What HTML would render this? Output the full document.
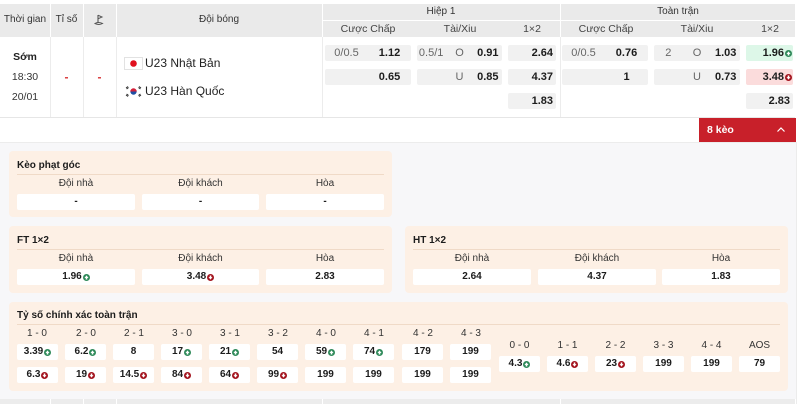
<!DOCTYPE html>
<html><head><meta charset="utf-8">
<style>
*{box-sizing:border-box}
body{margin:0;width:800px;height:404px;position:relative;overflow:hidden;background:#fff;font-family:"Liberation Sans",sans-serif;color:#222}
.a{position:absolute}
.t{position:absolute;text-align:center;white-space:nowrap}
.cell{position:absolute;height:16px;background:#f1f1f1;border-radius:2px;font-size:11px;line-height:16px;display:flex;color:#666}
.cell span{flex:1;text-align:center}
.b{font-weight:bold;color:#1c1c1c}
.r{justify-content:flex-end;align-items:center;padding-right:3px}
.g{background:#ddf7e8}
.rd{background:#fbdcdc}
.box{position:absolute;height:16px;background:#fff;border-radius:2px;font-size:10px;font-weight:bold;line-height:16px;display:flex;justify-content:center;align-items:center;color:#1c1c1c}
.box svg,.cell svg{margin-left:1px}
.lbl{position:absolute;font-size:10px;text-align:center;color:#333;line-height:12px}
.card{position:absolute;background:#fdf0e5;border-radius:4px}
.ttl{position:absolute;font-size:10px;font-weight:bold;color:#1c1c1c;line-height:12px}
.ln{position:absolute;height:1px;background:#f0dac7}
.vs{position:absolute;width:1px;background:#ececec}
.ws{position:absolute;background:#fff}
</style></head><body>

<!-- header -->
<div class="a" style="left:0;top:4px;width:795px;height:33px;background:#eaeaea"></div>
<div class="ws" style="left:50px;top:4px;width:1px;height:33px"></div>
<div class="ws" style="left:83px;top:4px;width:1px;height:33px"></div>
<div class="ws" style="left:116px;top:4px;width:1px;height:33px"></div>
<div class="ws" style="left:322px;top:4px;width:1px;height:33px"></div>
<div class="ws" style="left:560px;top:4px;width:1px;height:33px"></div>
<div class="ws" style="left:322px;top:20px;width:473px;height:1px"></div>

<div class="t" style="left:0;top:14px;width:50px;font-size:10px;line-height:12px;color:#333">Thời gian</div>
<div class="t" style="left:50px;top:14px;width:33px;font-size:10px;line-height:12px;color:#333">Tỉ số</div>
<svg class="a" style="left:94px;top:14px" width="10" height="12" viewBox="0 0 10 12"><path d="M4 1V9" stroke="#555" stroke-width="1.1" fill="none"/><path d="M4 1.2L8 3L4 4.8" stroke="#555" stroke-width="1" fill="none"/><path d="M1 9.5Q4 7.5 8.5 9.5Q5 11.5 1 9.5Z" stroke="#555" stroke-width="1" fill="none"/></svg>
<div class="t" style="left:116px;top:14px;width:206px;font-size:10px;line-height:12px;color:#333">Đội bóng</div>
<div class="t" style="left:322px;top:6px;width:238px;font-size:10px;line-height:12px;color:#333">Hiệp 1</div>
<div class="t" style="left:561px;top:6px;width:234px;font-size:10px;line-height:12px;color:#333">Toàn trận</div>
<div class="t" style="left:328px;top:23px;width:80px;font-size:10.5px;line-height:12px;color:#444">Cược Chấp</div>
<div class="t" style="left:420px;top:23px;width:80px;font-size:10.5px;line-height:12px;color:#444">Tài/Xiu</div>
<div class="t" style="left:512px;top:23px;width:40px;font-size:10.5px;line-height:12px;color:#444">1×2</div>
<div class="t" style="left:566px;top:23px;width:80px;font-size:10.5px;line-height:12px;color:#444">Cược Chấp</div>
<div class="t" style="left:657px;top:23px;width:80px;font-size:10.5px;line-height:12px;color:#444">Tài/Xiu</div>
<div class="t" style="left:750px;top:23px;width:40px;font-size:10.5px;line-height:12px;color:#444">1×2</div>

<!-- body row -->
<div class="vs" style="left:50px;top:37px;height:80px"></div>
<div class="vs" style="left:83px;top:37px;height:80px"></div>
<div class="vs" style="left:116px;top:37px;height:80px"></div>
<div class="vs" style="left:322px;top:37px;height:80px"></div>
<div class="vs" style="left:560px;top:37px;height:80px"></div>
<div class="a" style="left:0;top:117px;width:795px;height:1px;background:#e6e6e6"></div>

<div class="t" style="left:0;top:51px;width:50px;font-size:10.5px;font-weight:bold;line-height:12px">Sớm</div>
<div class="t" style="left:0;top:71px;width:50px;font-size:10.5px;line-height:12px;color:#333">18:30</div>
<div class="t" style="left:0;top:91px;width:50px;font-size:10.5px;line-height:12px;color:#333">20/01</div>
<div class="t" style="left:50px;top:70px;width:33px;font-size:12px;font-weight:bold;line-height:14px;color:#d9383a">-</div>
<div class="t" style="left:83px;top:70px;width:33px;font-size:12px;font-weight:bold;line-height:14px;color:#d9383a">-</div>

<svg class="a" style="left:124px;top:57px" width="19" height="13" viewBox="0 0 19 13"><rect x="0.5" y="0.5" width="18" height="12" fill="#fff" stroke="#e2e2e2"/><circle cx="9.5" cy="6.5" r="3.3" fill="#e0101e"/></svg>
<div class="a" style="left:145px;top:55px;font-size:12px;line-height:16px;color:#222">U23 Nhật Bản</div>
<svg class="a" style="left:124px;top:85px" width="19" height="13" viewBox="0 0 19 13"><rect x="0" y="0" width="19" height="13" fill="#fff"/><path d="M6.3 6.5A3.2 3.2 0 0 1 12.7 6.5Z" fill="#d3213a"/><path d="M6.3 6.5A3.2 3.2 0 0 0 12.7 6.5Z" fill="#1f4fa3"/><g stroke="#333" stroke-width="1"><path d="M2 3L4 1.5M2.6 4L4.6 2.5"/><path d="M15 1.5L17 3M14.4 2.5L16.4 4"/><path d="M2 10L4 11.5M2.6 9L4.6 10.5"/><path d="M15 11.5L17 10M14.4 10.5L16.4 9"/></g></svg>
<div class="a" style="left:145px;top:83px;font-size:12px;line-height:16px;color:#222">U23 Hàn Quốc</div>

<!-- odds H1 -->
<div class="cell" style="left:325px;top:45px;width:86px"><span>0/0.5</span><span class="b">1.12</span></div>
<div class="cell" style="left:417px;top:45px;width:85px"><span>0.5/1</span><span>O</span><span class="b">0.91</span></div>
<div class="cell r b" style="left:508px;top:45px;width:48px">2.64</div>
<div class="cell" style="left:325px;top:69px;width:86px"><span></span><span class="b">0.65</span></div>
<div class="cell" style="left:417px;top:69px;width:85px"><span></span><span>U</span><span class="b">0.85</span></div>
<div class="cell r b" style="left:508px;top:69px;width:48px">4.37</div>
<div class="cell r b" style="left:508px;top:93px;width:48px">1.83</div>
<!-- odds FT -->
<div class="cell" style="left:562px;top:45px;width:86px"><span>0/0.5</span><span class="b">0.76</span></div>
<div class="cell" style="left:654px;top:45px;width:86px"><span>2</span><span>O</span><span class="b">1.03</span></div>
<div class="cell r b g" style="left:746px;top:45px;width:47px;padding-right:1px">1.96<svg width="7" height="7" viewBox="0 0 8 8"><circle cx="4" cy="4" r="4" fill="#2f8a5a"/><path d="M4 1.6L6.3 4.5H4.9V6.3H3.1V4.5H1.7Z" fill="#fff"/></svg></div>
<div class="cell" style="left:562px;top:69px;width:86px"><span></span><span class="b">1</span></div>
<div class="cell" style="left:654px;top:69px;width:86px"><span></span><span>U</span><span class="b">0.73</span></div>
<div class="cell r b rd" style="left:746px;top:69px;width:47px;padding-right:1px">3.48<svg width="7" height="7" viewBox="0 0 8 8"><circle cx="4" cy="4" r="4" fill="#a3141e"/><path d="M4 6.4L6.3 3.5H4.9V1.7H3.1V3.5H1.7Z" fill="#fff"/></svg></div>
<div class="cell r b" style="left:746px;top:93px;width:47px">2.83</div>

<!-- 8 keo -->
<div class="a" style="left:699px;top:118px;width:97px;height:24px;background:#c8202a"></div>
<div class="a" style="left:707px;top:124px;font-size:10.5px;font-weight:bold;color:#fff;line-height:12px">8 kèo</div>
<svg class="a" style="left:776px;top:126px" width="10" height="7" viewBox="0 0 10 7"><path d="M1.5 5.5L5 2L8.5 5.5" stroke="#fff" stroke-width="1.2" fill="none"/></svg>

<!-- lower area -->
<div class="a" style="left:0;top:142px;width:796px;height:257px;background:#f7f7f9;border-top:1px solid #ececec"></div>
<div class="a" style="left:796px;top:142px;width:1px;height:262px;background:#ececec"></div>

<!-- Keo phat goc -->
<div class="card" style="left:9px;top:151px;width:383px;height:66px"></div>
<div class="ttl" style="left:17px;top:160px">Kèo phạt góc</div>
<div class="ln" style="left:17px;top:174px;width:367px"></div>
<div class="lbl" style="left:17px;top:178px;width:118px">Đội nhà</div>
<div class="lbl" style="left:142px;top:178px;width:117px">Đội khách</div>
<div class="lbl" style="left:266px;top:178px;width:118px">Hòa</div>
<div class="box" style="left:17px;top:194px;width:118px">-</div>
<div class="box" style="left:142px;top:194px;width:117px">-</div>
<div class="box" style="left:266px;top:194px;width:118px">-</div>

<!-- FT 1x2 -->
<div class="card" style="left:9px;top:226px;width:383px;height:67px"></div>
<div class="ttl" style="left:17px;top:235px">FT 1×2</div>
<div class="ln" style="left:17px;top:249px;width:367px"></div>
<div class="lbl" style="left:17px;top:253px;width:118px">Đội nhà</div>
<div class="lbl" style="left:142px;top:253px;width:117px">Đội khách</div>
<div class="lbl" style="left:266px;top:253px;width:118px">Hòa</div>
<div class="box g" style="left:17px;top:269px;width:118px">1.96<svg width="7" height="7" viewBox="0 0 8 8"><circle cx="4" cy="4" r="4" fill="#2f8a5a"/><path d="M4 1.6L6.3 4.5H4.9V6.3H3.1V4.5H1.7Z" fill="#fff"/></svg></div>
<div class="box rd" style="left:142px;top:269px;width:117px">3.48<svg width="7" height="7" viewBox="0 0 8 8"><circle cx="4" cy="4" r="4" fill="#a3141e"/><path d="M4 6.4L6.3 3.5H4.9V1.7H3.1V3.5H1.7Z" fill="#fff"/></svg></div>
<div class="box" style="left:266px;top:269px;width:118px">2.83</div>

<!-- HT 1x2 -->
<div class="card" style="left:405px;top:226px;width:383px;height:67px"></div>
<div class="ttl" style="left:413px;top:235px">HT 1×2</div>
<div class="ln" style="left:413px;top:249px;width:367px"></div>
<div class="lbl" style="left:413px;top:253px;width:118px">Đội nhà</div>
<div class="lbl" style="left:538px;top:253px;width:118px">Đội khách</div>
<div class="lbl" style="left:662px;top:253px;width:118px">Hòa</div>
<div class="box" style="left:413px;top:269px;width:118px">2.64</div>
<div class="box" style="left:538px;top:269px;width:118px">4.37</div>
<div class="box" style="left:662px;top:269px;width:118px">1.83</div>

<!-- Ty so -->
<div class="card" style="left:9px;top:302px;width:779px;height:89px"></div>
<div class="ttl" style="left:17px;top:310px">Tỷ số chính xác toàn trận</div>
<div class="ln" style="left:17px;top:324px;width:763px"></div>

<div class="lbl" style="left:16px;top:328px;width:42px">1 - 0</div>
<div class="lbl" style="left:65px;top:328px;width:42px">2 - 0</div>
<div class="lbl" style="left:113px;top:328px;width:42px">2 - 1</div>
<div class="lbl" style="left:161px;top:328px;width:42px">3 - 0</div>
<div class="lbl" style="left:209px;top:328px;width:42px">3 - 1</div>
<div class="lbl" style="left:257px;top:328px;width:42px">3 - 2</div>
<div class="lbl" style="left:305px;top:328px;width:42px">4 - 0</div>
<div class="lbl" style="left:353px;top:328px;width:42px">4 - 1</div>
<div class="lbl" style="left:402px;top:328px;width:42px">4 - 2</div>
<div class="lbl" style="left:450px;top:328px;width:42px">4 - 3</div>

<div class="box g" style="left:17px;top:344px;width:41px">3.39<svg width="7" height="7" viewBox="0 0 8 8"><circle cx="4" cy="4" r="4" fill="#2f8a5a"/><path d="M4 1.6L6.3 4.5H4.9V6.3H3.1V4.5H1.7Z" fill="#fff"/></svg></div>
<div class="box g" style="left:65px;top:344px;width:41px">6.2<svg width="7" height="7" viewBox="0 0 8 8"><circle cx="4" cy="4" r="4" fill="#2f8a5a"/><path d="M4 1.6L6.3 4.5H4.9V6.3H3.1V4.5H1.7Z" fill="#fff"/></svg></div>
<div class="box" style="left:113px;top:344px;width:41px">8</div>
<div class="box g" style="left:161px;top:344px;width:41px">17<svg width="7" height="7" viewBox="0 0 8 8"><circle cx="4" cy="4" r="4" fill="#2f8a5a"/><path d="M4 1.6L6.3 4.5H4.9V6.3H3.1V4.5H1.7Z" fill="#fff"/></svg></div>
<div class="box g" style="left:209px;top:344px;width:41px">21<svg width="7" height="7" viewBox="0 0 8 8"><circle cx="4" cy="4" r="4" fill="#2f8a5a"/><path d="M4 1.6L6.3 4.5H4.9V6.3H3.1V4.5H1.7Z" fill="#fff"/></svg></div>
<div class="box" style="left:257px;top:344px;width:41px">54</div>
<div class="box g" style="left:305px;top:344px;width:41px">59<svg width="7" height="7" viewBox="0 0 8 8"><circle cx="4" cy="4" r="4" fill="#2f8a5a"/><path d="M4 1.6L6.3 4.5H4.9V6.3H3.1V4.5H1.7Z" fill="#fff"/></svg></div>
<div class="box g" style="left:353px;top:344px;width:41px">74<svg width="7" height="7" viewBox="0 0 8 8"><circle cx="4" cy="4" r="4" fill="#2f8a5a"/><path d="M4 1.6L6.3 4.5H4.9V6.3H3.1V4.5H1.7Z" fill="#fff"/></svg></div>
<div class="box" style="left:402px;top:344px;width:41px">179</div>
<div class="box" style="left:450px;top:344px;width:41px">199</div>

<div class="box rd" style="left:17px;top:367px;width:41px">6.3<svg width="7" height="7" viewBox="0 0 8 8"><circle cx="4" cy="4" r="4" fill="#a3141e"/><path d="M4 6.4L6.3 3.5H4.9V1.7H3.1V3.5H1.7Z" fill="#fff"/></svg></div>
<div class="box rd" style="left:65px;top:367px;width:41px">19<svg width="7" height="7" viewBox="0 0 8 8"><circle cx="4" cy="4" r="4" fill="#a3141e"/><path d="M4 6.4L6.3 3.5H4.9V1.7H3.1V3.5H1.7Z" fill="#fff"/></svg></div>
<div class="box rd" style="left:113px;top:367px;width:41px">14.5<svg width="7" height="7" viewBox="0 0 8 8"><circle cx="4" cy="4" r="4" fill="#a3141e"/><path d="M4 6.4L6.3 3.5H4.9V1.7H3.1V3.5H1.7Z" fill="#fff"/></svg></div>
<div class="box rd" style="left:161px;top:367px;width:41px">84<svg width="7" height="7" viewBox="0 0 8 8"><circle cx="4" cy="4" r="4" fill="#a3141e"/><path d="M4 6.4L6.3 3.5H4.9V1.7H3.1V3.5H1.7Z" fill="#fff"/></svg></div>
<div class="box rd" style="left:209px;top:367px;width:41px">64<svg width="7" height="7" viewBox="0 0 8 8"><circle cx="4" cy="4" r="4" fill="#a3141e"/><path d="M4 6.4L6.3 3.5H4.9V1.7H3.1V3.5H1.7Z" fill="#fff"/></svg></div>
<div class="box rd" style="left:257px;top:367px;width:41px">99<svg width="7" height="7" viewBox="0 0 8 8"><circle cx="4" cy="4" r="4" fill="#a3141e"/><path d="M4 6.4L6.3 3.5H4.9V1.7H3.1V3.5H1.7Z" fill="#fff"/></svg></div>
<div class="box" style="left:305px;top:367px;width:41px">199</div>
<div class="box" style="left:353px;top:367px;width:41px">199</div>
<div class="box" style="left:402px;top:367px;width:41px">199</div>
<div class="box" style="left:450px;top:367px;width:41px">199</div>

<div class="lbl" style="left:499px;top:340px;width:41px">0 - 0</div>
<div class="lbl" style="left:547px;top:340px;width:41px">1 - 1</div>
<div class="lbl" style="left:595px;top:340px;width:41px">2 - 2</div>
<div class="lbl" style="left:643px;top:340px;width:41px">3 - 3</div>
<div class="lbl" style="left:691px;top:340px;width:41px">4 - 4</div>
<div class="lbl" style="left:739px;top:340px;width:41px">AOS</div>
<div class="box g" style="left:499px;top:356px;width:41px">4.3<svg width="7" height="7" viewBox="0 0 8 8"><circle cx="4" cy="4" r="4" fill="#2f8a5a"/><path d="M4 1.6L6.3 4.5H4.9V6.3H3.1V4.5H1.7Z" fill="#fff"/></svg></div>
<div class="box rd" style="left:547px;top:356px;width:41px">4.6<svg width="7" height="7" viewBox="0 0 8 8"><circle cx="4" cy="4" r="4" fill="#a3141e"/><path d="M4 6.4L6.3 3.5H4.9V1.7H3.1V3.5H1.7Z" fill="#fff"/></svg></div>
<div class="box rd" style="left:595px;top:356px;width:41px">23<svg width="7" height="7" viewBox="0 0 8 8"><circle cx="4" cy="4" r="4" fill="#a3141e"/><path d="M4 6.4L6.3 3.5H4.9V1.7H3.1V3.5H1.7Z" fill="#fff"/></svg></div>
<div class="box" style="left:643px;top:356px;width:41px">199</div>
<div class="box" style="left:691px;top:356px;width:41px">199</div>
<div class="box" style="left:739px;top:356px;width:41px">79</div>

<!-- bottom strip -->
<div class="a" style="left:0;top:399px;width:795px;height:5px;background:#ececec"></div>
<div class="ws" style="left:50px;top:399px;width:1px;height:5px"></div>
<div class="ws" style="left:83px;top:399px;width:1px;height:5px"></div>
<div class="ws" style="left:116px;top:399px;width:1px;height:5px"></div>
<div class="ws" style="left:322px;top:399px;width:1px;height:5px"></div>
<div class="ws" style="left:560px;top:399px;width:1px;height:5px"></div>

</body></html>
